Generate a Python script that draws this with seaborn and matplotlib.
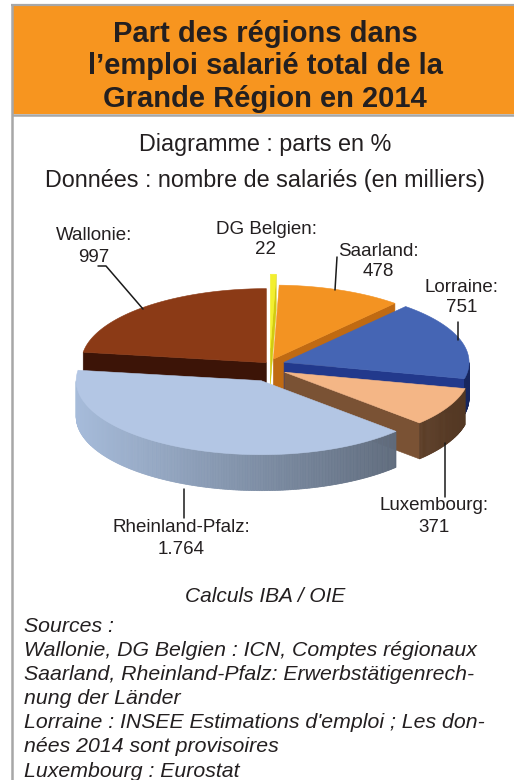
import numpy as np
import matplotlib
matplotlib.use("Agg")
import matplotlib.pyplot as plt
from matplotlib.patches import Polygon, Rectangle
from matplotlib.colors import to_rgb
import seaborn as sns

# data (employés salariés en milliers, 2014)
regions = ["DG Belgien", "Saarland", "Lorraine", "Luxembourg", "Rheinland-Pfalz", "Wallonie"]
salaries = [22, 478, 751, 371, 1764, 997]
value_labels = ["22", "478", "751", "371", "1.764", "997"]
top_colors = ["#f3ef2e", "#f39322", "#4565b4", "#f4b686", "#b3c6e4", "#8b3a16"]
side_colors = ["#d2ca10", "#c06a12", "#22398c", "#7a5234", "#7d8da4", "#3c1407"]
explode = [0.12, 0.05, 0.08, 0.09, 0.11, 0.03]

title_lines = ["Part des régions dans", "l’emploi salarié total de la", "Grande Région en 2014"]
subtitle_1 = "Diagramme : parts en %"
subtitle_2 = "Données : nombre de salariés (en milliers)"
credit = "Calculs IBA / OIE"
sources = [
    "Sources :",
    "Wallonie, DG Belgien : ICN, Comptes régionaux",
    "Saarland, Rheinland-Pfalz: Erwerbstätigenrech-",
    "nung der Länder",
    "Lorraine : INSEE Estimations d'emploi ; Les don-",
    "nées 2014 sont provisoires",
    "Luxembourg : Eurostat",
]

sns.set_theme(style="white")
plt.rcParams["font.family"] = ["Liberation Sans", "DejaVu Sans"]

W, H = 514, 780
fig = plt.figure(figsize=(W / 100, H / 100), dpi=100)
ax = fig.add_axes([0, 0, 1, 1])
ax.set_xlim(0, W)
ax.set_ylim(H, 0)
ax.axis("off")

# frame and header
grey = "#a7a7a7"
ax.add_patch(Rectangle((12, 5), W - 12, 109, facecolor="#f7951f", edgecolor="none"))
ax.plot([11, W], [4.5, 4.5], color=grey, lw=1.6, solid_capstyle="butt")
ax.plot([12, 12], [4, H], color=grey, lw=1.8, solid_capstyle="butt")
ax.plot([12, W], [114.5, 114.5], color=grey, lw=1.8, solid_capstyle="butt")

for j, line in enumerate(title_lines):
    ax.text(265, 34 + j * 32.5, line, ha="center", va="center", fontsize=21,
            fontweight="bold", color="#231f20")
ax.text(265, 145, subtitle_1, ha="center", va="center", fontsize=16.8, color="#231f20")
ax.text(265, 181, subtitle_2, ha="center", va="center", fontsize=16.8, color="#231f20")

# pseudo 3D pie
cx, cy, R, k, depth = 270, 366, 185, 0.40, 36
kx = 0.8  # vertical squash of explode offsets


def shade(col, f):
    r, g, b = to_rgb(col)
    return (min(r * f, 1), min(g * f, 1), min(b * f, 1))


total = sum(salaries)
spans = [360 * v / total for v in salaries]
starts = 90 - np.concatenate([[0], np.cumsum(spans)[:-1]])

slices = []
for i, (t1, sp) in enumerate(zip(starts, spans)):
    t2 = t1 - sp
    mid = np.radians((t1 + t2) / 2)
    e = explode[i] * R
    ox, oy = e * np.cos(mid), -e * kx * np.sin(mid)
    slices.append((i, t1, t2, ox, oy, np.sin(mid)))

slices.sort(key=lambda s: -s[5])


def point(th, r, ox, oy, dz=0):
    a = np.radians(th)
    return cx + ox + r * np.cos(a), cy + oy - k * r * np.sin(a) + dz


for i, t1, t2, ox, oy, _ in slices:
    c0 = point(0, 0, ox, oy)
    # radial cut faces facing the viewer
    for th, vis in ((t1, np.cos(np.radians(t1)) < -1e-6), (t2, np.cos(np.radians(t2)) > 1e-6)):
        if vis:
            p = point(th, R, ox, oy)
            quad = [c0, p, (p[0], p[1] + depth), (c0[0], c0[1] + depth)]
            ax.add_patch(Polygon(quad, closed=True, facecolor=side_colors[i],
                                 edgecolor=side_colors[i], lw=0.4, zorder=2))
    # outer curved side (front half only)
    thetas = np.linspace(t1, t2, max(int(abs(t1 - t2) * 2), 3))
    for a, b in zip(thetas[:-1], thetas[1:]):
        am = np.radians((a + b) / 2)
        if np.sin(am) >= 0:
            continue
        f = 1.0 - 0.33 * np.cos(am)
        col = shade(side_colors[i], f)
        pa, pb = point(a, R, ox, oy), point(b, R, ox, oy)
        quad = [pa, pb, (pb[0], pb[1] + depth), (pa[0], pa[1] + depth)]
        ax.add_patch(Polygon(quad, closed=True, facecolor=col, edgecolor=col, lw=0.5, zorder=2))
    # top face
    arc = [point(th, R, ox, oy) for th in np.linspace(t1, t2, 120)]
    ax.add_patch(Polygon([c0] + arc, closed=True, facecolor=top_colors[i],
                         edgecolor=top_colors[i], lw=0.4, zorder=2))

# labels
label_pos = {
    "DG Belgien": (266, 229),
    "Saarland": (378, 251),
    "Lorraine": (462, 287),
    "Luxembourg": (434, 506),
    "Rheinland-Pfalz": (181, 528),
    "Wallonie": (94, 236),
}
for name, val in zip(regions, value_labels):
    x, y = label_pos[name]
    ax.text(x, y, name + ":", ha="center", va="center", fontsize=13.5, color="#231f20", zorder=4)
    ax.text(x, y + 21, val, ha="center", va="center", fontsize=13.5, color="#231f20", zorder=4)

leaders = [
    ([98, 106, 143], [266, 266, 309]),
    ([337, 335], [257, 290]),
    ([458, 458], [322, 340]),
    ([445, 445], [443, 497]),
    ([184, 184], [489, 518]),
]
for xs, ys in leaders:
    ax.plot(xs, ys, color="#1a1a1a", lw=1.1, zorder=3)

ax.text(265, 596, credit, ha="center", va="center", fontsize=15, style="italic", color="#231f20")
for j, line in enumerate(sources):
    ax.text(24, 626 + j * 24.2, line, ha="left", va="center", fontsize=15.3, style="italic",
            color="#231f20")

fig.savefig("out.png", dpi=100)
